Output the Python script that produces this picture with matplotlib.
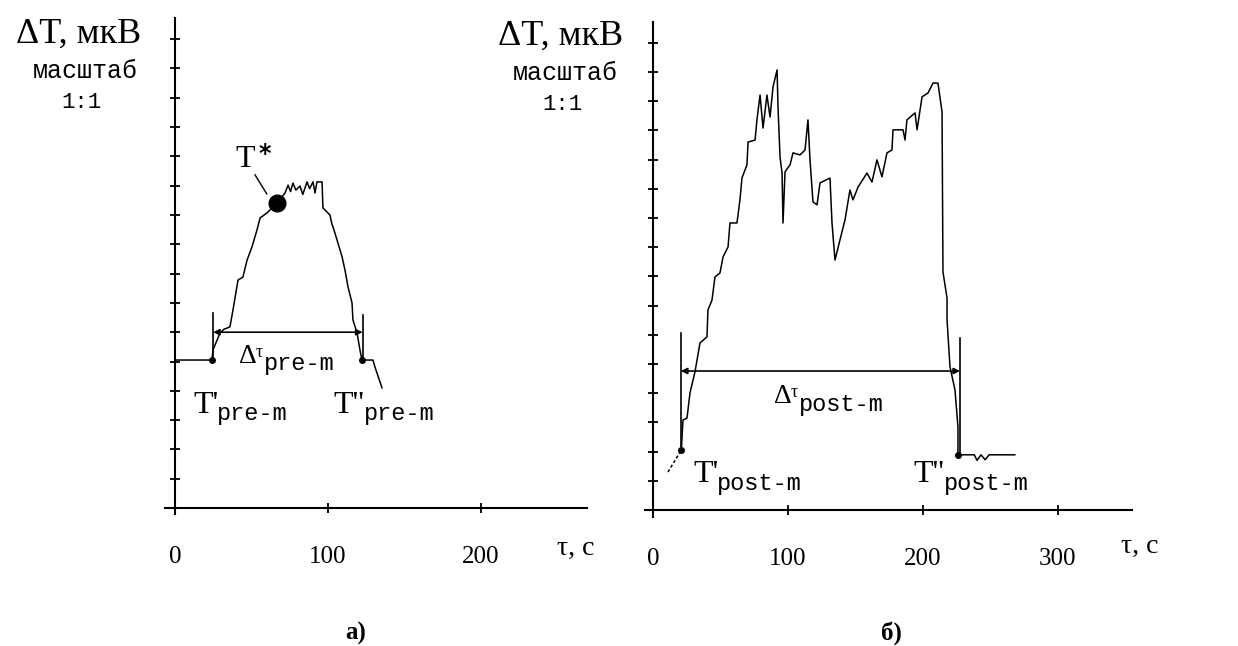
import matplotlib
matplotlib.use("Agg")
import matplotlib.pyplot as plt

# ---------------- data ----------------
# panel a) pre-melting
t_a = [0, 24.2, 24.8, 27.5, 29.4, 32.0, 35.9, 37.9, 41.2, 44.4, 47.1, 50.3, 53.6,
       55.6, 60.1, 66.7, 71.9, 73.9, 75.5, 77.1, 79.0, 81.7, 83.5, 86.3, 88.0,
       90.2, 91.5, 92.8, 96.1, 96.7, 101.3, 102.5, 103.3, 105.9, 109.2, 111.1,
       113.1, 115.7, 116.3, 119.0, 120.9, 122.2, 129.4, 130.7, 135.3]
dT_a = [5.05, 5.05, 5.39, 5.73, 5.97, 6.10, 6.18, 6.76, 7.78, 7.88, 8.46, 8.91, 9.49,
        9.90, 10.07, 10.41, 10.75, 11.02, 10.80, 11.09, 10.85, 10.99, 10.70, 11.13, 10.90,
        11.13, 10.75, 11.13, 11.13, 10.24, 10.00, 9.70, 9.59, 9.15, 8.57, 8.12,
        7.54, 7.00, 6.42, 5.97, 5.39, 5.05, 5.05, 4.81, 4.10]

# panel b) post-melting
t_b = [11.1, 21.0, 22.2, 25.2, 27.4, 31.1, 34.8, 40.0, 40.7, 43.7, 45.9, 49.6, 51.9,
       55.6, 57.0, 62.2, 64.4, 65.9, 69.6, 70.4, 75.6, 77.0, 79.3, 81.5, 84.4, 86.7,
       88.9, 91.9, 92.6, 94.1, 95.6, 96.3, 97.8, 101.5, 103.7, 108.9, 112.6, 114.8,
       116.3, 118.5, 121.5, 123.7, 131.1, 132.6, 134.8, 138.5, 142.2, 145.9, 148.1,
       151.9, 158.5, 162.2, 165.9, 169.6, 173.3, 177.0, 177.8, 185.2, 186.7, 188.1,
       194.1, 195.6, 199.3, 203.7, 207.4, 211.1, 214.1, 214.8, 217.8, 217.8, 220.0,
       223.7, 225.9, 225.9, 238, 240, 243, 246, 249, 252, 268]
dT_b = [1.30, 2.06, 3.08, 3.15, 4.01, 4.73, 5.72, 5.93, 6.85, 7.19, 7.98, 8.12, 8.67,
        9.01, 9.83, 9.83, 10.62, 11.37, 11.82, 12.60, 12.67, 13.36, 14.21, 13.08, 14.21, 13.46,
        14.49, 15.07, 13.80, 12.09, 11.54, 9.83, 11.58, 11.82, 12.23, 12.16, 12.33, 13.36,
        11.99, 10.55, 10.45, 11.20, 11.37, 9.83, 8.56, 9.25, 9.93, 10.96, 10.62,
        11.06, 11.54, 11.23, 11.99, 11.41, 12.23, 12.33, 13.02, 13.02, 12.67, 13.36,
        13.60, 13.02, 14.15, 14.28, 14.62, 14.62, 13.63, 8.15, 7.26, 6.51, 4.90,
        4.11, 2.84, 1.89, 1.89, 1.70, 1.89, 1.72, 1.89, 1.89, 1.89]

# characteristic points
Tstar_a = (66.7, 10.41)
T1_a, T2_a = (24.2, 5.05), (122.2, 5.05)
T1_b, T2_b = (21.0, 2.06), (225.9, 1.89)
arrow_a = (24.9, 122.6, 6.0)      # x_start, x_end, level
arrow_b = (20.7, 227.4, 4.76)

xticks_a = [0, 100, 200]
xticks_b = [0, 100, 200, 300]
yticks = list(range(1, 17))

W, H = 1238, 646
fig = plt.figure(figsize=(W / 100, H / 100), dpi=100)
fig.patch.set_facecolor("white")

SERIF = "Liberation Serif"
MONO = "Liberation Mono"


def box(x0, x1, y0, y1):
    return [x0 / W, 1 - y1 / H, (x1 - x0) / W, (y1 - y0) / H]


def ftext(x, y, s, **kw):
    kw.setdefault("va", "baseline")
    kw.setdefault("ha", "left")
    fig.text(x / W, 1 - y / H, s, **kw)


def style_axes(ax, xlim, ylim, xb, yb, xticks):
    ax.set_xlim(*xlim)
    ax.set_ylim(*ylim)
    for s in ("top", "right"):
        ax.spines[s].set_visible(False)
    ax.spines["left"].set_position(("data", 0))
    ax.spines["bottom"].set_position(("data", 0))
    ax.spines["left"].set_bounds(*yb)
    ax.spines["bottom"].set_bounds(*xb)
    for s in ("left", "bottom"):
        ax.spines[s].set_linewidth(1.5)
    ax.set_yticks(yticks)
    ax.set_yticklabels([])
    ax.set_xticks(xticks)
    ax.set_xticklabels([str(v) for v in xticks], fontfamily=SERIF, fontsize=18)
    ax.tick_params(axis="y", direction="inout", length=7, width=1.3)
    ax.tick_params(axis="x", direction="inout", length=7, width=1.3, pad=24)
    ax.patch.set_alpha(0)


# ---------------- panel a ----------------
ax1 = fig.add_axes(box(150, 600, 10, 540))
style_axes(ax1, (-25 / 1.53, 425 / 1.53), (-32 / 29.3, 498 / 29.3),
           (-6.5, 269), (-0.2, 16.72), xticks_a)
ax1.plot(t_a, dT_a, color="black", lw=1.1)
ax1.plot(*T1_a, "o", color="black", ms=4)
ax1.plot(*T2_a, "o", color="black", ms=4)
ax1.plot(*Tstar_a, "o", color="black", ms=12)
ax1.plot([52.3, 60.0], [11.37, 10.72], color="black", lw=1.0)
ax1.annotate("", xy=(arrow_a[1], arrow_a[2]), xytext=(arrow_a[0], arrow_a[2]),
             arrowprops=dict(arrowstyle="<|-|>", mutation_scale=9, lw=1.2,
                             color="black", shrinkA=0, shrinkB=0))
ax1.plot([arrow_a[0]] * 2, [5.05, 6.65], color="black", lw=1.2)
ax1.plot([arrow_a[1]] * 2, [5.0, 6.59], color="black", lw=1.2)

# ---------------- panel b ----------------
ax2 = fig.add_axes(box(630, 1160, 10, 540))
style_axes(ax2, (-23 / 1.35, 507 / 1.35), (-30 / 29.2, 500 / 29.2),
           (-6.0, 355), (-0.25, 16.71), xticks_b)
ax2.plot(t_b[:2], dT_b[:2], color="black", lw=1.1, ls=(0, (2, 1.5)))
ax2.plot(t_b[1:], dT_b[1:], color="black", lw=1.1)
ax2.plot(*T1_b, "o", color="black", ms=4)
ax2.plot(*T2_b, "o", color="black", ms=4)
ax2.annotate("", xy=(arrow_b[1], arrow_b[2]), xytext=(arrow_b[0], arrow_b[2]),
             arrowprops=dict(arrowstyle="<|-|>", mutation_scale=9, lw=1.2,
                             color="black", shrinkA=0, shrinkB=0))
ax2.plot([arrow_b[0]] * 2, [2.05, 6.06], color="black", lw=1.2)
ax2.plot([arrow_b[1]] * 2, [1.88, 5.89], color="black", lw=1.2)

# ---------------- texts ----------------
for cx, base in ((79, 43), (561, 45)):
    ftext(cx, base, "ΔT, мкВ", ha="center", family=SERIF, fontsize=26)
ftext(85, 78, "масштаб", ha="center", family=MONO, fontsize=18)
ftext(81, 108, "1:1", ha="center", family=MONO, fontsize=16)
ftext(565, 80, "масштаб", ha="center", family=MONO, fontsize=18)
ftext(562, 110, "1:1", ha="center", family=MONO, fontsize=16)

# T*
ftext(235, 167, "T", family=SERIF, fontsize=23)
ftext(265, 161, "*", ha="center", family="DejaVu Sans", fontweight="bold", fontsize=17)

# Δτ pre-m
ftext(239, 363, "Δ", family=SERIF, fontsize=20)
ftext(256, 357, "τ", family=SERIF, fontsize=13)
ftext(264, 370, "pre-m", family=MONO, fontsize=17)
ftext(193, 413, "T'", family=SERIF, fontsize=23)
ftext(217, 420, "pre-m", family=MONO, fontsize=17)
ftext(333, 413, "T''", family=SERIF, fontsize=23)
ftext(364, 420, "pre-m", family=MONO, fontsize=17)

# Δτ post-m
ftext(774, 403, "Δ", family=SERIF, fontsize=20)
ftext(791, 397, "τ", family=SERIF, fontsize=13)
ftext(799, 411, "post-m", family=MONO, fontsize=17)
ftext(693, 482, "T'", family=SERIF, fontsize=23)
ftext(717, 490, "post-m", family=MONO, fontsize=17)
ftext(913, 482, "T''", family=SERIF, fontsize=23)
ftext(944, 490, "post-m", family=MONO, fontsize=17)

# axis names
ftext(576, 555, "τ, с", ha="center", family=SERIF, fontsize=20)
ftext(1140, 553, "τ, с", ha="center", family=SERIF, fontsize=20)

# panel captions
ftext(356, 640, "а)", ha="center", family=SERIF, fontweight="bold", fontsize=18)
ftext(891, 640, "б)", ha="center", family=SERIF, fontweight="bold", fontsize=18)

fig.savefig("out.png", dpi=100, facecolor="white")
